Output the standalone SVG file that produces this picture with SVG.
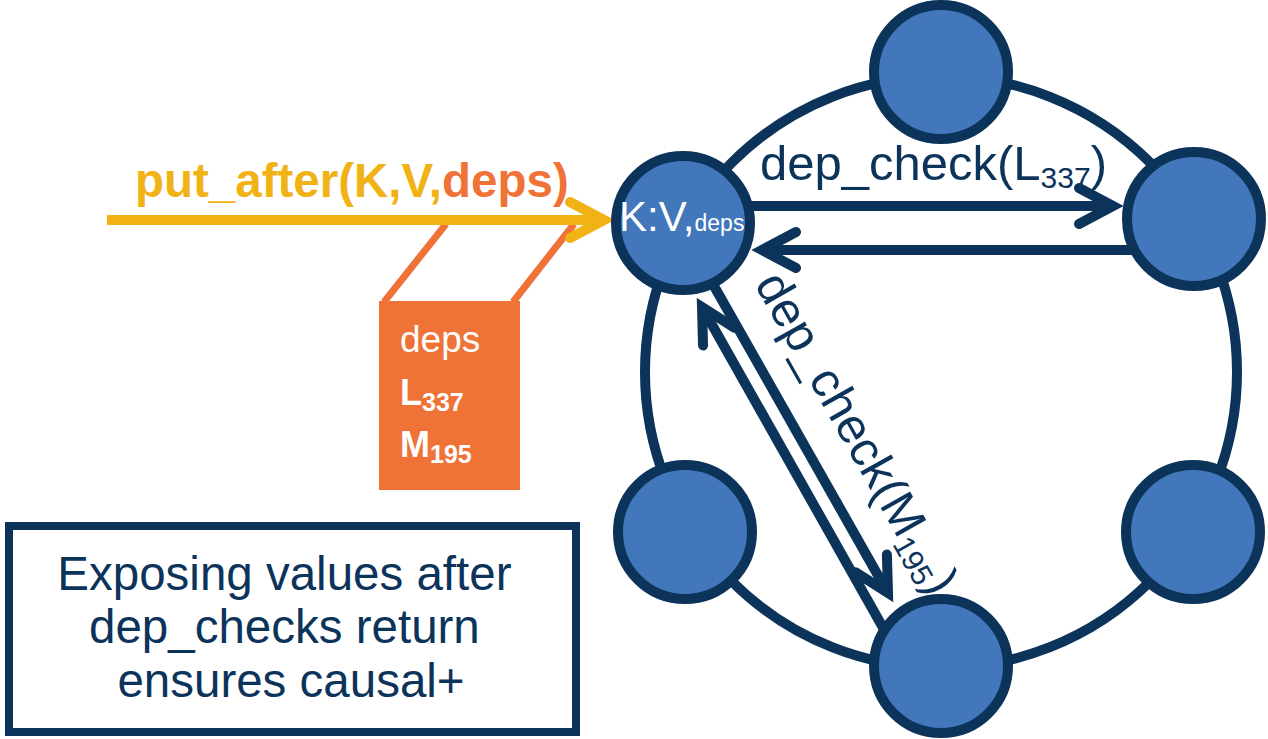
<svg xmlns="http://www.w3.org/2000/svg" width="1268" height="739" viewBox="0 0 1268 739">
  <style>
    .ring { fill: none; stroke: #0c345a; stroke-width: 10; }
    .node { fill: #4277bb; stroke: #0c345a; stroke-width: 10; }
    .navy-line { stroke: #0c345a; stroke-width: 10; fill: none; }
    .yellow-line { stroke: #f0b214; stroke-width: 10; fill: none; }
    .orange-line { stroke: #ef7236; stroke-width: 7; fill: none; }
    .label { font-family: "Liberation Sans", Arial, sans-serif; }
    .navy-text { fill: #0c345a; }
  </style>
  <defs>
    <marker id="chev-navy" markerUnits="userSpaceOnUse" orient="auto" refX="0" refY="0" markerWidth="1" markerHeight="1" style="overflow:visible">
      <path d="M-34,-18 L0,0 L-34,18" fill="none" stroke="#0c345a" stroke-width="10" stroke-linecap="round" stroke-linejoin="miter"/>
    </marker>
    <marker id="chev-yellow" markerUnits="userSpaceOnUse" orient="auto" refX="0" refY="0" markerWidth="1" markerHeight="1" style="overflow:visible">
      <path d="M-34,-18 L0,0 L-34,18" fill="none" stroke="#f0b214" stroke-width="10" stroke-linecap="round" stroke-linejoin="miter"/>
    </marker>
  </defs>

  <rect width="1268" height="739" fill="#ffffff"/>

  <!-- ring joining the servers -->
  <circle id="ring" class="ring" cx="941" cy="372" r="296"/>

  <!-- connectors -->
  <g id="connectors">
    <!-- deps box hangs off the put_after call -->
    <line class="orange-line" x1="446" y1="224" x2="384" y2="302"/>
    <line class="orange-line" x1="574" y1="224" x2="513" y2="302"/>
    <line class="yellow-line" x1="107" y1="220" x2="604" y2="220" marker-end="url(#chev-yellow)"/>
    <!-- dep_check(L337) and its reply -->
    <line class="navy-line" x1="745" y1="206" x2="1113" y2="206" marker-end="url(#chev-navy)"/>
    <line class="navy-line" x1="1140" y1="250" x2="762" y2="250" marker-end="url(#chev-navy)"/>
    <!-- dep_check(M195) and its reply -->
    <line class="navy-line" x1="714" y1="286" x2="888" y2="593" marker-end="url(#chev-navy)"/>
    <line class="navy-line" x1="890" y1="640" x2="702" y2="307" marker-end="url(#chev-navy)"/>
  </g>

  <!-- servers -->
  <g id="node-top"><circle class="node" cx="941" cy="72" r="67"/></g>
  <g id="node-right"><circle class="node" cx="1194" cy="219" r="67"/></g>
  <g id="node-right-bottom"><circle class="node" cx="1193" cy="532" r="67"/></g>
  <g id="node-bottom"><circle class="node" cx="941" cy="666" r="67"/></g>
  <g id="node-left-bottom"><circle class="node" cx="685" cy="532" r="67"/></g>
  <g id="node-kv">
    <circle class="node" cx="683" cy="223" r="67"/>
    <text class="label" x="619" y="231" fill="#ffffff" font-size="42">K:V,<tspan font-size="23">deps</tspan></text>
  </g>

  <!-- client call -->
  <g id="put-after-label">
    <text class="label" x="135" y="197" font-size="47.5" font-weight="bold" fill="#f0b214">put_after(K,V,<tspan fill="#ef7236">deps)</tspan></text>
  </g>

  <!-- dependency list -->
  <g id="deps-box">
    <rect x="379" y="301" width="141" height="189" fill="#ef7236"/>
    <text class="label" x="400" y="352" font-size="37" fill="#ffffff">deps</text>
    <text class="label" x="400" y="405" font-size="36" font-weight="bold" fill="#ffffff">L<tspan font-size="25" dy="6">337</tspan></text>
    <text class="label" x="400" y="457" font-size="36" font-weight="bold" fill="#ffffff">M<tspan font-size="25" dy="6">195</tspan></text>
  </g>

  <!-- check labels -->
  <g id="check-labels">
    <text class="label navy-text" x="760" y="180" font-size="49">dep_check(L<tspan font-size="30" dy="8">337</tspan><tspan dy="-8">)</tspan></text>
    <text class="label navy-text" transform="translate(754,284) rotate(60.5)" font-size="49">dep_check(M<tspan font-size="30" dy="8">195</tspan><tspan dy="-8">)</tspan></text>
  </g>

  <!-- note -->
  <g id="note">
    <rect x="9" y="526" width="567" height="206" fill="#ffffff" stroke="#0c345a" stroke-width="8"/>
    <text class="label navy-text" font-size="47.5" text-anchor="middle">
      <tspan x="291" y="590">Exposing values after</tspan>
      <tspan x="291" y="643">dep_checks return</tspan>
      <tspan x="291" y="697">ensures causal+</tspan>
    </text>
  </g>
</svg>
